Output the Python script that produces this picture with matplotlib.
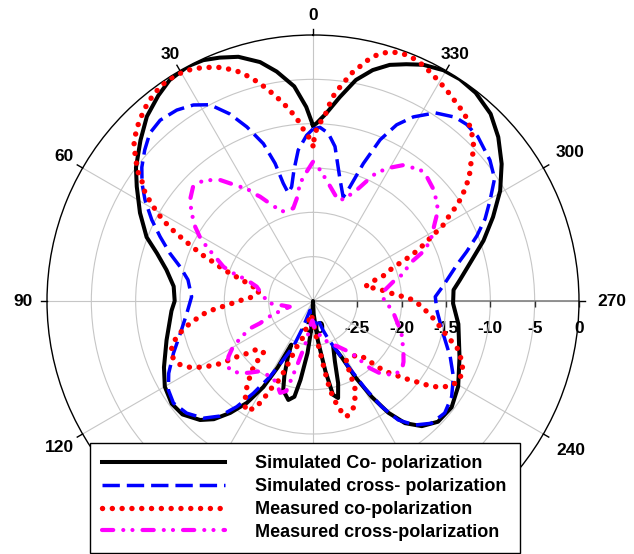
import numpy as np
import matplotlib
matplotlib.use("Agg")
import matplotlib.pyplot as plt
from matplotlib.lines import Line2D

plt.rcParams['font.family'] = ['Liberation Sans', 'DejaVu Sans']

# radiation patterns: angle in degrees, level in dB
sim_co_deg = [0, 2, 5, 9, 12.5, 17, 21, 24.5, 28, 33, 37, 42, 47, 53, 57, 63, 69, 73, 78, 84,
              90, 94, 105, 114, 120, 126, 131, 136.5, 140, 143.5, 147, 150, 152, 153.5, 156, 159,
              161.5, 166, 169, 171, 174, 177, 180, 183, 187, 190, 192, 194.5, 197, 200, 204,
              207, 209, 211.5, 214, 217, 221, 226, 232.5, 239.5, 249, 261, 269, 274.5, 278,
              283.5, 289.5, 295, 300.5, 306, 311.5, 316.5, 322, 326.5, 330.5, 335, 338.5, 342,
              345.5, 349, 352.5, 356, 359, 360]
sim_co_db = [-10.2, -8.1, -5.7, -3.8, -2.4, -1.2, -0.6, -0.15, 0, -0.3, -1.0, -2.0, -3.4, -5.0,
             -6.3, -8.1, -9.9, -11.6, -13.1, -14.2, -14.4, -14.0, -12.9, -11.6, -10.7, -10.3,
             -10.5, -11.5, -12.6, -14.3, -16.3, -18.8, -21.5, -24.5, -23.0, -21.0, -19.4, -18.5,
             -19.0, -21.0, -24.1, -27.1, -30, -28.5, -25.5, -22.0, -19.2, -18.7, -20.3, -22.8,
             -24.4, -22.9, -20.2, -17.3, -14.8, -12.75, -11.3, -10.4, -10.3, -11.0, -12.3,
             -13.4, -14.2, -14.1, -13.3, -11.8, -9.6, -7.6, -5.5, -3.7, -2.1, -0.9, -0.2, 0,
             -0.1, -0.6, -1.3, -2.0, -3.1, -4.6, -6.8, -8.8, -10.0, -10.2]

sim_x_deg = [0, 2.2, 5.6, 8.3, 10.6, 12.9, 14.2, 15.4, 17.5, 20.8, 24, 27.7, 31.4, 35.5, 40.2,
             44.2, 48.1, 52, 55.5, 59, 63.3, 67.2, 71.6, 75.5, 80.4, 88, 95.6, 103.7, 110.5,
             116.6, 121.6, 126.2, 131.6, 136.9, 141, 144.2, 147.1, 150.4, 153.3, 156.7, 159.3,
             162, 168, 174, 180, 187, 194, 199, 202, 204.9, 208.3, 210.8, 213, 215.6, 219.4,
             224.1, 229.6, 235.4, 241.6, 247.9, 256.1, 265.8, 272, 276.3, 284, 287.8, 291.7,
             295.5, 299.7, 304, 308.5, 314.9, 319, 322.3, 327, 331.4, 334.6, 337.4, 339.9,
             342.1, 343.8, 347.4, 351.9, 354.8, 357.7, 360]
sim_x_db = [-10.6, -11.3, -12.9, -15.1, -16.9, -17.5, -16.3, -13.9, -11.4, -9.0, -6.9, -5.0,
            -4.1, -3.55, -3.3, -3.6, -4.5, -5.5, -6.6, -7.9, -9.65, -11.3, -13.0, -14.5, -15.7,
            -16.3, -15.7, -14.6, -13.2, -11.8, -10.85, -10.5, -10.95, -11.9, -13.3, -15.3,
            -17.6, -20.2, -22.6, -24.4, -26.9, -28.9, -28.5, -27.3, -27.8, -27.3, -28.0, -26.5,
            -25.3, -24.1, -21.6, -18.5, -15.8, -13.5, -11.9, -10.8, -10.5, -11.0, -12.0, -13.3,
            -14.9, -16.0, -16.2, -15.3, -13.3, -11.8, -10.1, -8.5, -7.0, -5.3, -4.5, -3.75,
            -3.6, -3.8, -4.7, -6.35, -8.0, -10.3, -13.5, -16.5, -17.8, -16.0, -12.4, -11.0,
            -10.4, -10.6]

meas_co_deg = [0, 1.5, 3.4, 5.1, 7.3, 9.5, 11.7, 13.7, 15.7, 17.7, 19.7, 21.7, 23.8, 25.8, 27.6,
               29.5, 31.9, 35, 37.8, 40.3, 42.6, 44.8, 47, 48.9, 50.6, 52.4, 53.8, 55.1, 57.3,
               58.6, 60.3, 61.8, 63.3, 64.6, 65.9, 67.4, 68.6, 70.3, 71.8, 73.2, 75.7, 79, 85.9,
               88.6, 91.2, 93.2, 94.8, 96.5, 99.1, 101.6, 104.7, 107.9, 111.5, 115.3, 118.2,
               120.3, 122.1, 123.9, 125.2, 126.3, 128.5, 130.6, 136, 137.8, 141.3, 143.2, 145.5,
               148.2, 151.5, 153.1, 154.2, 156.5, 157.7, 158.4, 159.1, 160.4, 163.8, 166.5, 172,
               178, 183, 186, 187.9, 189.6, 190.8, 193.3, 196.2, 200.6, 203.3, 205.7, 206.6,
               207.7, 209, 215, 221, 223.2, 224.9, 226.8, 229, 230.8, 232.6, 234, 235.8, 238.2,
               240.9, 244.8, 248.4, 252.4, 254.8, 258.6, 261.8, 267, 270.6, 272.7, 275, 278.2,
               281.7, 285.4, 288.7, 289.9, 292.8, 293.9, 295.3, 296.9, 298.8, 300.1, 302, 303.4,
               305, 306.8, 308.4, 310.2, 311.6, 313.3, 315.1, 317.4, 319.7, 322.1, 324.9, 327.6,
               330.4, 333.2, 335.8, 338.4, 340.7, 342.8, 344.9, 346.8, 348.3, 350.4, 352.1, 354,
               355.1, 355.9, 356.8, 358.3, 359.3, 360]
meas_co_db = [-12.5, -11.5, -10.5, -9.3, -8.1, -6.95, -5.8, -4.75, -3.8, -2.9, -2.25, -1.65,
              -1.2, -0.8, -0.5, -0.3, -0.2, -0.27, -0.6, -1.0, -1.5, -2.0, -2.6, -3.2, -4.05,
              -4.9, -5.6, -6.5, -7.5, -8.5, -9.7, -10.9, -12.4, -13.8, -15.15, -16.5, -17.85,
              -19.1, -20.3, -21.5, -22.7, -23.9, -23.25, -22.2, -21.1, -20.0, -18.8, -17.7,
              -16.5, -15.3, -14.1, -13.25, -12.9, -13.3, -14.2, -15.2, -16.2, -17.3, -18.45,
              -19.4, -20.5, -21.6, -22.0, -20.0, -18.3, -17.4, -16.5, -15.5, -16.2, -17.5, -18.9,
              -20.2, -21.4, -22.4, -23.3, -24.5, -25.4, -27.0, -28.5, -28.0, -27.0, -25.5,
              -24.2, -21.9, -19.8, -17.6, -16.4, -17.1, -18.05, -19.1, -20.3, -21.4, -22.3,
              -22.4, -21.9, -20.6, -19.3, -18.1, -17.0, -15.9, -14.8, -13.7, -12.7, -11.8,
              -11.3, -11.3, -12.0, -13.0, -14.2, -15.4, -16.3, -17.7, -18.7, -19.8, -20.9,
              -21.9, -22.9, -23.9, -22.6, -21.4, -20.2, -18.8, -17.4, -16.05, -14.5, -13.1,
              -11.9, -10.7, -9.5, -8.5, -7.5, -6.8, -6.1, -5.1, -4.4, -3.7, -3.1, -2.7, -2.3,
              -1.85, -1.4, -0.95, -0.55, -0.3, -0.35, -0.6, -1.1, -1.9, -2.8, -3.95, -5.2,
              -6.45, -7.6, -8.6, -9.4, -10.15, -11.1, -12.5]

meas_x_deg = [0, 2.8, 6.3, 9, 12, 15.2, 19.3, 23.8, 26.9, 29, 30.5, 32.6, 37.5, 40.4, 43.4,
              46.3, 50.6, 54.1, 57.8, 60.4, 62.9, 65.7, 69.1, 70.8, 72.4, 75.7, 85, 93, 96.9,
              103.9, 108.7, 112.8, 113.5, 116.6, 119.8, 123.3, 127.3, 131.6, 135.4, 138.7,
              142.5, 148, 155.3, 160.3, 163.5, 166, 168, 170.8, 173.3, 178, 183, 188, 193.7,
              200, 209, 216.5, 220.3, 222.8, 227.3, 232.1, 236.1, 241.5, 250.2, 261.3, 266.9,
              272.4, 278.7, 283.5, 286.3, 291.7, 294.5, 298.4, 302.6, 305.2, 307.6, 312.5,
              318.7, 320.8, 326.4, 331, 334.4, 338.5, 342.7, 345.9, 352.6, 356.9, 360]
meas_x_db = [-14.3, -15.4, -16.65, -18.3, -19.3, -19.4, -19.3, -18.0, -16.8, -16.1, -15.25,
             -14.7, -12.8, -12.1, -11.5, -11.3, -12.05, -13.1, -14.3, -15.3, -16.5, -17.9,
             -19.2, -20.5, -22.2, -23.45, -24.4, -25.1, -26.25, -27.3, -25.1, -23.5, -22.3,
             -21.0, -19.6, -18.6, -17.8, -18.0, -18.55, -19.25, -20.0, -20.2, -20.0, -19.0,
             -19.4, -22.4, -24.0, -25.5, -27.1, -27.8, -27.0, -26.3, -25.9, -25.0, -24.1,
             -22.7, -20.05, -18.9, -17.7, -17.3, -17.7, -18.4, -19.4, -20.8, -21.5, -22.1,
             -21.8, -20.7, -19.6, -18.0, -16.1, -14.8, -13.7, -12.85, -12.3, -11.5, -10.85,
             -10.9, -11.6, -12.9, -14.25, -16.55, -17.9, -18.3, -16.6, -15.2, -14.3]

series_labels = ["Simulated Co- polarization", "Simulated cross- polarization",
                 "Measured co-polarization", "Measured cross-polarization"]
angle_ticks = list(range(0, 360, 30))
angle_labels = [0, 30, 60, 90, 120, 240, 270, 300, 330]
r_ticks = [-30, -25, -20, -15, -10, -5, 0]

W, H = 634, 554
cx, cy, R = 313, 301, 266

fig = plt.figure(figsize=(W / 100, H / 100), dpi=100)
ax = fig.add_axes([(cx - R) / W, (H - cy - R) / H, 2 * R / W, 2 * R / H], projection='polar')
ax.set_theta_zero_location('N')
ax.set_theta_direction(1)
ax.set_rlim(-30, 0)
ax.set_xticks(np.deg2rad(angle_ticks))
ax.set_xticklabels([])
ax.set_yticks([-25, -20, -15, -10, -5])
ax.set_yticklabels([])
ax.tick_params(axis='both', length=0)
ax.grid(True, color='#c6c6c6', lw=0.8)
ax.spines['polar'].set_color('black')
ax.spines['polar'].set_linewidth(1.0)

# tick marks outside the ring
for a in angle_ticks:
    th = np.deg2rad(a)
    ax.plot([th, th], [0, 0.7], color='black', lw=1.0, clip_on=False, zorder=2)

# angle labels (the lower ones sit under the legend box)
label_off = {0: 20, 30: 19, 60: 22, 90: 24, 120: 27, 240: 32, 270: 33, 300: 31, 330: 19}
for a in angle_labels:
    th = np.deg2rad(a)
    off = label_off[a]
    ax.annotate(str(a), xy=(th, 0), xytext=(-np.sin(th) * off, np.cos(th) * off),
                textcoords='offset pixels', ha='center', va='center', fontsize=12.5,
                fontweight='bold', annotation_clip=False, zorder=1)

# radial scale along 270 deg
th270 = np.deg2rad(270)
ax.plot([th270, th270], [-30, 0], color='#8a8a8a', lw=1.3, zorder=2)
ax.plot([th270] * len(r_ticks), r_ticks, linestyle='none', marker=3, ms=4,
        mew=1.0, color='#303030', zorder=2, clip_on=False)
for v in r_ticks:
    ax.annotate(str(v), xy=(th270, v), xytext=(0, -20), textcoords='offset pixels',
                ha='center', va='top', fontsize=12.5, fontweight='bold',
                annotation_clip=False, zorder=1)

styles = [
    dict(color='black', lw=2.9, linestyle='-', solid_joinstyle='round', zorder=3),
    dict(color='#0000ff', lw=2.5, linestyle=(0, (5.0, 2.0)), dash_capstyle='butt', zorder=4),
    dict(color='#ff0000', lw=3.9, linestyle=(0, (0.01, 1.8)), dash_capstyle='round', zorder=5),
    dict(color='#ff00ff', lw=3.0, linestyle=(0, (2.7, 2.4, 0.01, 2.2, 0.01, 2.4)),
         dash_capstyle='round', zorder=6),
]
data = [(sim_co_deg, sim_co_db), (sim_x_deg, sim_x_db),
        (meas_co_deg, meas_co_db), (meas_x_deg, meas_x_db)]

handles = []
for (deg, db), st, lab in zip(data, styles, series_labels):
    ax.plot(np.deg2rad(deg), db, **st)
    handles.append(Line2D([], [], **st))

leg = ax.legend(handles, series_labels, loc='upper left',
                bbox_to_anchor=(90 / W, 1 - 553 / H, 430 / W, 110 / H),
                bbox_transform=fig.transFigure, mode='expand', borderaxespad=0,
                prop={'weight': 'bold', 'size': 13}, handlelength=6.8,
                handletextpad=1.7, labelspacing=0.33, borderpad=0.66,
                fancybox=False, framealpha=1, edgecolor='black')
leg.get_frame().set_linewidth(1.0)
leg.set_zorder(10)

fig.savefig('out.png', dpi=100)
